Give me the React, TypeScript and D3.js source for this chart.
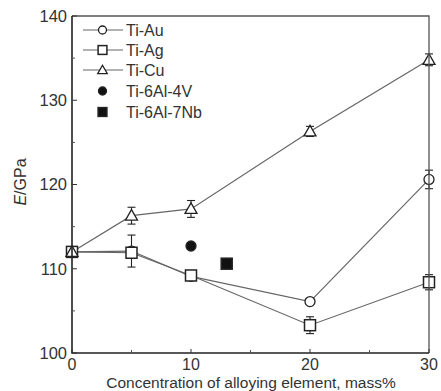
import React from "react";
import * as d3 from "d3";

const xs = [0, 5, 10, 20, 30];
const tiAu = [112, 112.1, 109.1, 106.1, 120.6];
const tiAuErr = [0, 1.9, 0.3, 0.3, 1.1];
const tiAg = [112, 111.9, 109.2, 103.3, 108.4];
const tiAgErr = [0, 0.5, 0.3, 1.0, 0.9];
const tiCu = [112, 116.3, 117.1, 126.3, 134.8];
const tiCuErr = [0, 1.0, 1.0, 0.6, 0.7];
const ti64 = { x: 10, y: 112.7 };
const ti67 = { x: 13, y: 110.6 };
const xTicks = [0, 10, 20, 30];
const xMinor = [5, 15, 25];
const yTicks = [100, 110, 120, 130, 140];
const yMinor = [105, 115, 125, 135];
const legendLabels = ["Ti-Au", "Ti-Ag", "Ti-Cu", "Ti-6Al-4V", "Ti-6Al-7Nb"];

const W = 441, H = 391;
const margin = { left: 72, right: 12, top: 16, bottom: 38 };

export default function App() {
  const x = d3.scaleLinear().domain([0, 30]).range([margin.left, W - margin.right]);
  const y = d3.scaleLinear().domain([100, 140]).range([H - margin.bottom, margin.top]);
  const line = d3.line<number>().x((_, i) => x(xs[i])).y((d) => y(d));
  const font = "Liberation Sans, Arial, sans-serif";
  const lineColor = "#666";
  const mk = "#222";

  const marker = (type: string, cx: number, cy: number, key: string, filled = false, sc = 1) => {
    const fill = filled ? "#111" : "#fff";
    if (type === "circle") return <circle key={key} cx={cx} cy={cy} r={5 * sc} fill={fill} stroke={mk} strokeWidth={1.3} />;
    if (type === "square") {
      const h = 5.5 * sc;
      return <rect key={key} x={cx - h} y={cy - h} width={2 * h} height={2 * h} fill={fill} stroke={mk} strokeWidth={1.5} />;
    }
    const s = 6 * sc;
    return <path key={key} d={`M${cx},${cy - s}L${cx + s},${cy + s * 0.75}L${cx - s},${cy + s * 0.75}Z`} fill={fill} stroke={mk} strokeWidth={1.3} />;
  };

  const errBars = (vals: number[], errs: number[], k: string) =>
    vals.map((v, i) => {
      if (!errs[i]) return null;
      const cx = x(xs[i]);
      const y1 = y(v + errs[i]), y2 = y(v - errs[i]);
      return (
        <g key={k + i} stroke={mk} strokeWidth={1.1}>
          <line x1={cx} x2={cx} y1={y1} y2={y2} />
          <line x1={cx - 4} x2={cx + 4} y1={y1} y2={y1} />
          <line x1={cx - 4} x2={cx + 4} y1={y2} y2={y2} />
        </g>
      );
    });

  const series = [
    { vals: tiAu, errs: tiAuErr, type: "circle", k: "au" },
    { vals: tiAg, errs: tiAgErr, type: "square", k: "ag" },
    { vals: tiCu, errs: tiCuErr, type: "triangle", k: "cu" },
  ];

  const x0 = x.range()[0], x1 = x.range()[1], y0 = y.range()[0], y1 = y.range()[1];
  const legY = [30, 50, 70, 91, 112];

  return (
    <svg width={W} height={H} style={{ position: "absolute", left: 0, top: 0 }} fontFamily={font}>
      <rect width={W} height={H} fill="#fff" />
      {series.map((s) => (
        <path key={s.k + "l"} d={line(s.vals) || ""} fill="none" stroke={lineColor} strokeWidth={1.2} />
      ))}
      {series.map((s) => errBars(s.vals, s.errs, s.k))}
      {series.map((s) => s.vals.map((v, i) => marker(s.type, x(xs[i]), y(v), s.k + "m" + i)))}
      {marker("circle", x(ti64.x), y(ti64.y), "t64", true)}
      {marker("square", x(ti67.x), y(ti67.y), "t67", true)}

      {/* axes */}
      <path d={`M${x0},${y1}L${x1},${y1}L${x1},${y0}`} fill="none" stroke="#555" strokeWidth={1.3} />
      <path d={`M${x0},${y1}L${x0},${y0}L${x1},${y0}`} fill="none" stroke="#222" strokeWidth={1.6} />
      {yTicks.map((t) => (
        <g key={"yt" + t}>
          <line x1={x0} x2={x0 + 5} y1={y(t)} y2={y(t)} stroke="#333" strokeWidth={1} />
          <text x={x0 - 5} y={y(t)} dy="0.36em" textAnchor="end" fontSize={16.5} fill="#333">{t}</text>
        </g>
      ))}
      {yMinor.map((t) => (
        <line key={"ym" + t} x1={x0} x2={x0 + 3} y1={y(t)} y2={y(t)} stroke="#555" strokeWidth={1} />
      ))}
      {xTicks.map((t) => (
        <g key={"xt" + t}>
          <line x1={x(t)} x2={x(t)} y1={y0} y2={y0 - 4} stroke="#333" strokeWidth={1} />
          <text x={x(t)} y={y0 + 16.5} textAnchor="middle" fontSize={16} fill="#333">{t}</text>
        </g>
      ))}
      {xMinor.map((t) => (
        <line key={"xm" + t} x1={x(t)} x2={x(t)} y1={y0} y2={y0 - 3} stroke="#555" strokeWidth={1} />
      ))}
      <text x={251} y={y0 + 35} textAnchor="middle" fontSize={15.5} fill="#333">
        Concentration of alloying element, mass%
      </text>
      <text transform={`translate(26,182) rotate(-90)`} textAnchor="middle" fontSize={16} fill="#333">
        <tspan fontStyle="italic">E</tspan>/GPa
      </text>

      {/* legend */}
      {legendLabels.map((lab, i) => {
        const ly = legY[i];
        const types = ["circle", "square", "triangle", "circle", "square"];
        return (
          <g key={"lg" + i}>
            {i < 3 && <line x1={83} x2={123} y1={ly} y2={ly} stroke={lineColor} strokeWidth={1.2} />}
            {marker(types[i], 102.5, ly, "lm" + i, i >= 3, 0.8)}
            <text x={126} y={ly} dy="0.36em" fontSize={16} fill="#333">{lab}</text>
          </g>
        );
      })}
    </svg>
  );
}
